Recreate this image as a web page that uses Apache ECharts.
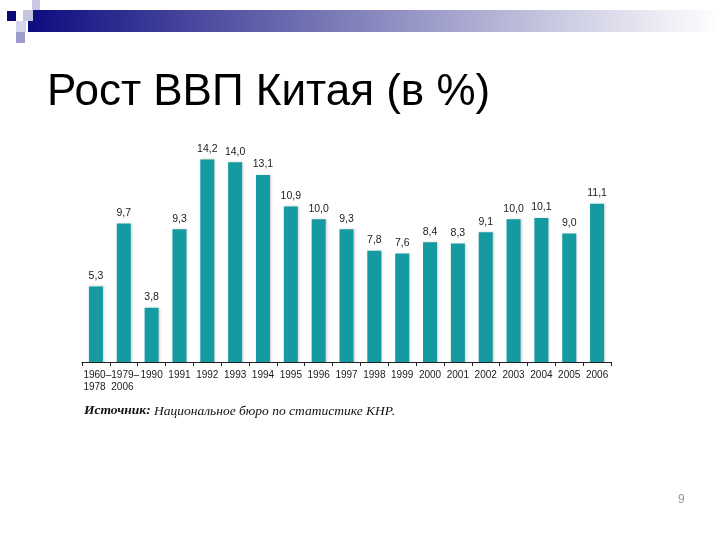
<!DOCTYPE html>
<html><head><meta charset="utf-8">
<script src="https://cdn.jsdelivr.net/npm/echarts@6/dist/echarts.min.js"></script>
<style>html,body{margin:0;padding:0;background:#fff}#c{width:720px;height:540px}</style>
</head><body><div id="c"></div>
<script>
const categories = ['1960–\n1978','1979–\n2006','1990','1991','1992','1993','1994','1995','1996','1997','1998','1999','2000','2001','2002','2003','2004','2005','2006'];
const growth = [5.3, 9.7, 3.8, 9.3, 14.2, 14.0, 13.1, 10.9, 10.0, 9.3, 7.8, 7.6, 8.4, 8.3, 9.1, 10.0, 10.1, 9.0, 11.1];
const titleText = 'Рост ВВП Китая (в %)';
const sourceLabel = 'Источник:';
const sourceText = ' Национальное бюро по статистике КНР.';
const pageNumber = '9';

const chart = echarts.init(document.getElementById('c'));
chart.setOption({
  animation: false,
  backgroundColor: '#ffffff',
  grid: {left: 82, right: 109, top: 148, bottom: 178},
  xAxis: {
    type: 'category', data: categories,
    axisLine: {lineStyle: {color: '#222', width: 1}},
    axisTick: {show: true, length: 4, lineStyle: {color: '#222'}},
    axisLabel: {color: '#1a1a1a', fontSize: 10, fontFamily: '"Liberation Sans Narrow", Arial, sans-serif', margin: 7, lineHeight: 12, interval: 0, align: 'center',
      formatter: v => v.indexOf('\n') < 0 ? v : v.split('\n').map(s => '{a|' + s + '}').join('\n'),
      rich: {a: {width: 25, align: 'left', fontSize: 10, color: '#1a1a1a', lineHeight: 12, fontFamily: '"Liberation Sans Narrow", Arial, sans-serif'}}}
  },
  yAxis: {type: 'value', min: 0, max: 15, show: false, splitLine: {show: false}},
  series: [{
    type: 'bar', data: growth, barWidth: 14,
    itemStyle: {color: '#149aa0', shadowColor: 'rgba(0,0,0,0.18)', shadowBlur: 2, shadowOffsetX: 1},
    label: {show: true, position: 'top', distance: 5, color: '#1a1a1a', fontSize: 10.5,
      fontFamily: '"Liberation Sans Narrow", Arial, sans-serif',
      formatter: p => p.value.toFixed(1).replace('.', ',')}
  }],
  graphic: [
    {type: 'rect', shape: {x: 28, y: 10, width: 692, height: 22}, z: 1,
      style: {fill: new echarts.graphic.LinearGradient(0, 0, 1, 0, [
        {offset: 0, color: '#0c0c80'}, {offset: 0.45, color: '#7c7cb8'}, {offset: 0.8, color: '#d2d2e6'}, {offset: 1, color: '#ffffff'}])}},
    {type: 'rect', shape: {x: 7, y: 11, width: 9, height: 10}, z: 2, style: {fill: '#0a0a7a'}},
    {type: 'rect', shape: {x: 23, y: 10, width: 10, height: 11}, z: 2, style: {fill: '#c4c4dc'}},
    {type: 'rect', shape: {x: 32, y: 0, width: 8, height: 10}, z: 2, style: {fill: '#c8c8e2'}},
    {type: 'rect', shape: {x: 16, y: 21, width: 10, height: 11}, z: 2, style: {fill: '#d4d4ea'}},
    {type: 'rect', shape: {x: 16, y: 32, width: 9, height: 11}, z: 2, style: {fill: '#9c9cca'}},
    {type: 'text', left: 47, top: 71, z: 3,
      style: {text: titleText, fill: '#000', font: '44px "Liberation Sans", Arial, sans-serif'}},
    {type: 'text', left: 84, top: 404, z: 3,
      style: {text: '{b|' + sourceLabel + '}{i|' + sourceText + '}',
        rich: {
          b: {fontFamily: '"Liberation Serif", "Times New Roman", serif', fontStyle: 'italic', fontWeight: 'bold', fontSize: 13.5, fill: '#111'},
          i: {fontFamily: '"Liberation Serif", "Times New Roman", serif', fontStyle: 'italic', fontSize: 13.5, fill: '#111'}
        }}},
    {type: 'text', left: 678, top: 494, z: 3,
      style: {text: pageNumber, fill: '#9a9a9a', font: '12px "Liberation Sans", Arial, sans-serif'}}
  ]
});
</script></body></html>
